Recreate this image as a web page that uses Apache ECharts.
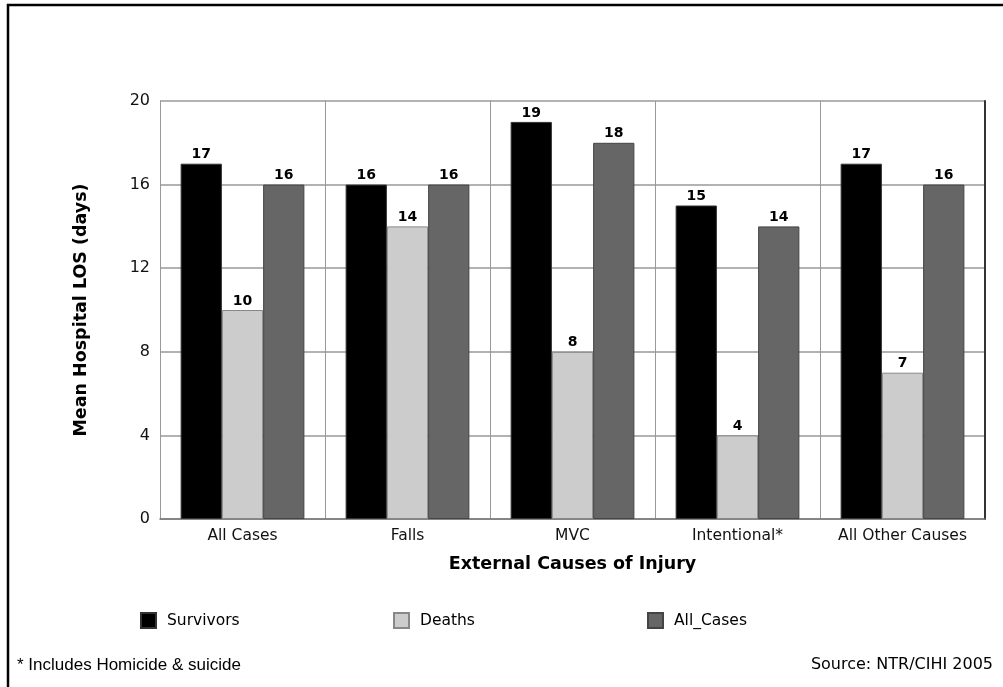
<!DOCTYPE html>
<html><head><meta charset="utf-8">
<script src="https://cdn.jsdelivr.net/npm/echarts@6/dist/echarts.min.js"></script>
<style>html,body{margin:0;padding:0;background:#fff}#c{width:1003px;height:687px}</style>
</head><body><div id="c"></div>
<script>
const categories = ['All Cases', 'Falls', 'MVC', 'Intentional*', 'All Other Causes'];
const survivors = [17, 16, 19, 15, 17];
const deaths = [10, 14, 8, 4, 7];
const allCases = [16, 16, 18, 14, 16];
const seriesNames = ['Survivors', 'Deaths', 'All_Cases'];
const yTicks = { min: 0, max: 20, interval: 4 };

const chart = echarts.init(document.getElementById('c'), null, { renderer: 'canvas' });
const FONT = 'DejaVu Sans';
function bar(name, data, color, border) {
  return {
    name, type: 'bar', data, barGap: '0%', barCategoryGap: '25%',
    itemStyle: { color, borderColor: border, borderWidth: 1 },
    label: { show: true, position: 'top', distance: 2, color: '#000', fontFamily: FONT, fontWeight: 'bold', fontSize: 14 }
  };
}
const legendBase = {
  top: 612, padding: 0, itemWidth: 15, itemHeight: 15, icon: 'rect',
  textStyle: { fontFamily: FONT, fontSize: 15.5, color: '#000', padding: [0, 0, 0, 6] }
};
chart.setOption({
  animation: false,
  backgroundColor: '#fff',
  grid: { left: 160, right: 18, top: 101, bottom: 168, containLabel: false },
  legend: [
    Object.assign({ left: 140, data: [seriesNames[0]] }, legendBase),
    Object.assign({ left: 393, data: [seriesNames[1]] }, legendBase),
    Object.assign({ left: 647, data: [seriesNames[2]] }, legendBase)
  ],
  xAxis: {
    type: 'category', data: categories,
    name: 'External Causes of Injury', nameLocation: 'middle', nameGap: 36,
    nameTextStyle: { fontFamily: FONT, fontWeight: 'bold', fontSize: 17.5, color: '#000' },
    axisLine: { lineStyle: { color: '#777', width: 1.5 } },
    axisTick: { show: false },
    axisLabel: { interval: 0, fontFamily: FONT, fontSize: 15.5, color: '#111', margin: 9 },
    splitLine: { show: true, interval: 0, lineStyle: { color: '#999', width: 1 } }
  },
  yAxis: [{
    type: 'value', min: yTicks.min, max: yTicks.max, interval: yTicks.interval,
    name: 'Mean Hospital LOS (days)', nameLocation: 'middle', nameGap: 70,
    nameTextStyle: { fontFamily: FONT, fontWeight: 'bold', fontSize: 17.5, color: '#000' },
    axisLine: { show: true, lineStyle: { color: '#999', width: 1 } },
    axisTick: { show: false },
    axisLabel: { fontFamily: FONT, fontSize: 16, color: '#111', margin: 10 },
    splitLine: { show: true, lineStyle: { color: '#999', width: 1.5 } }
  }, {
    type: 'value', position: 'right', min: yTicks.min, max: yTicks.max, interval: yTicks.interval,
    axisLine: { show: true, lineStyle: { color: '#333', width: 2 } },
    axisTick: { show: false }, axisLabel: { show: false }, splitLine: { show: false }
  }],
  series: [
    bar(seriesNames[0], survivors, '#000000', '#333'),
    bar(seriesNames[1], deaths, '#cccccc', '#888'),
    bar(seriesNames[2], allCases, '#666666', '#444')
  ],
  graphic: [
    { type: 'rect', shape: { x: 8, y: 5, width: 1010, height: 700 }, style: { fill: 'none', stroke: '#000', lineWidth: 2.5 }, silent: true },
    { type: 'text', left: 17, top: 657, style: { text: '* Includes Homicide & suicide', font: '17px "Liberation Sans", Arial, sans-serif', fill: '#000' } },
    { type: 'text', right: 10, top: 657, style: { text: 'Source: NTR/CIHI 2005', font: '16px "DejaVu Sans", sans-serif', fill: '#000' } }
  ]
});
</script></body></html>
